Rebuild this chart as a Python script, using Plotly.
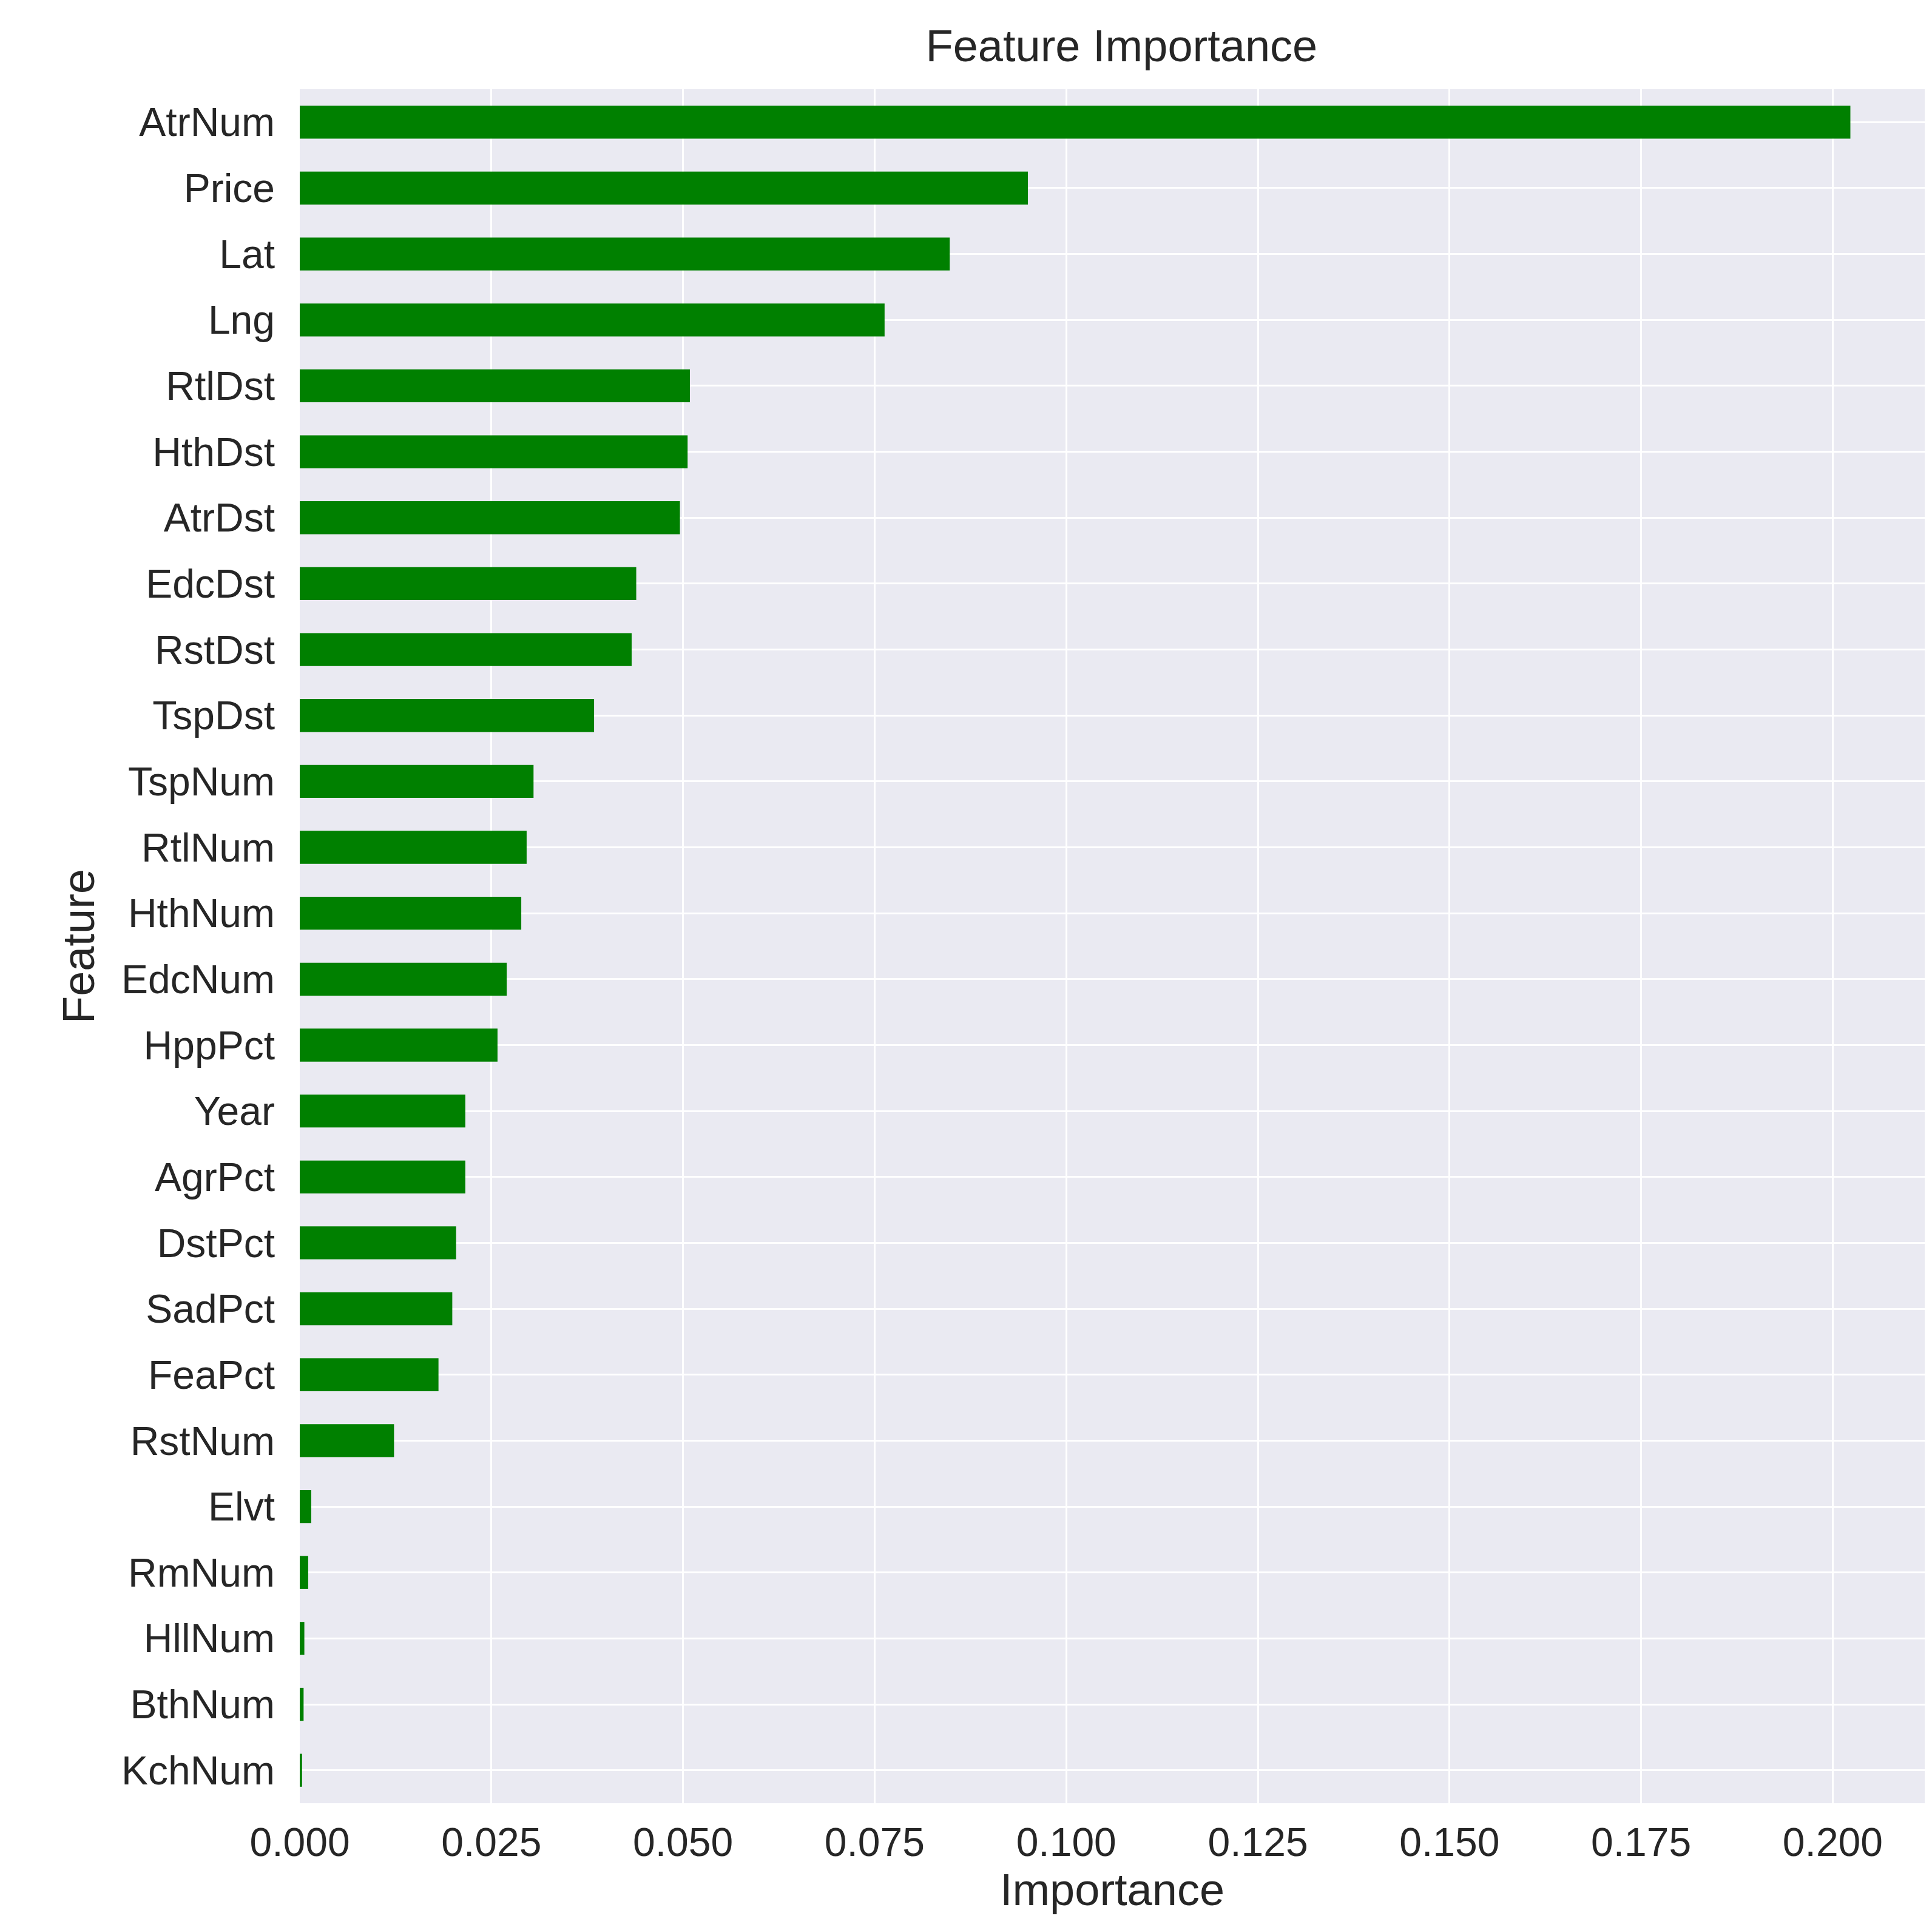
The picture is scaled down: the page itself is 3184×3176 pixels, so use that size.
import plotly.graph_objs as go

features = ["AtrNum", "Price", "Lat", "Lng", "RtlDst", "HthDst", "AtrDst", "EdcDst", "RstDst",
            "TspDst", "TspNum", "RtlNum", "HthNum", "EdcNum", "HppPct", "Year", "AgrPct",
            "DstPct", "SadPct", "FeaPct", "RstNum", "Elvt", "RmNum", "HllNum", "BthNum", "KchNum"]
importance = [0.2023, 0.0950, 0.0848, 0.0763, 0.0509, 0.0506, 0.0496, 0.0439, 0.0433,
              0.0384, 0.0305, 0.0296, 0.0289, 0.0270, 0.0258, 0.0216, 0.0216,
              0.0204, 0.0199, 0.0181, 0.0123, 0.0015, 0.0011, 0.0006, 0.0005, 0.0003]
xticks = [0.0, 0.025, 0.05, 0.075, 0.1, 0.125, 0.15, 0.175, 0.2]

fig = go.Figure(go.Bar(
    x=importance[::-1], y=features[::-1], orientation="h",
    marker=dict(color="green", line=dict(width=0)), width=0.5,
))

font = "Arial, Liberation Sans, DejaVu Sans, sans-serif"
fig.update_layout(
    width=3184, height=3176,
    margin=dict(l=486, r=20, t=139, b=212),
    paper_bgcolor="white", plot_bgcolor="#EAEAF2",
    font=dict(family=font, size=66, color="#262626"),
    title=dict(text="Feature Importance", x=0.578, xanchor="center", y=0.987, yanchor="top",
               font=dict(size=74)),
    showlegend=False, bargap=0.5,
)
fig.update_xaxes(range=[0, 0.212], tickvals=xticks, ticktext=[f"{v:.3f}" for v in xticks],
                 showgrid=True, gridcolor="white", gridwidth=3, zeroline=False,
                 title=dict(text="Importance", font=dict(size=74), standoff=10),
                 ticks="", ticklabelstandoff=20)
fig.update_yaxes(showgrid=True, gridcolor="white", gridwidth=3,
                 title=dict(text="Feature", font=dict(size=74), standoff=20),
                 ticks="", ticklabelstandoff=40)

fig.write_html("out.html")
